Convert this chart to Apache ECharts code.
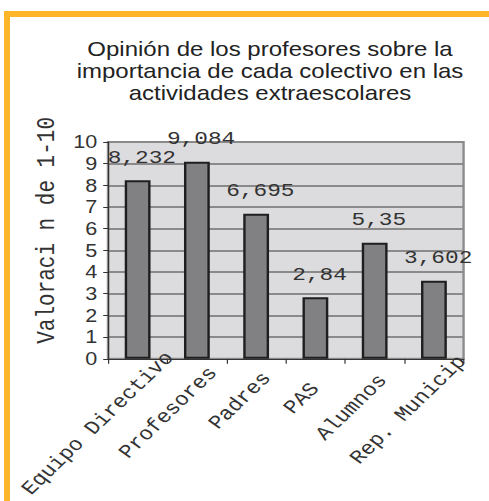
<!DOCTYPE html>
<html>
<head>
<meta charset="utf-8">
<script src="https://cdn.jsdelivr.net/npm/echarts@6/dist/echarts.min.js"></script>
<style>
  html, body { margin: 0; padding: 0; width: 489px; height: 501px; overflow: hidden; background: #ffffff; }
  #frame { position: absolute; left: 4px; top: 11px; width: 1000px; height: 1000px;
           border-top: 6px solid #FDB62A; border-left: 6px solid #FDB62A; }
  #chart { position: absolute; left: 0; top: 0; width: 407.5px; height: 501px;
           transform: scaleX(1.2); transform-origin: 0 0; }
</style>
</head>
<body>
<div id="frame"></div>
<div id="chart"></div>
<script>
const titleLines = ['Opinión de los profesores sobre la', 'importancia de cada colectivo en las', 'actividades extraescolares'];
const categories = ['Equipo Directivo', 'Profesores', 'Padres', 'PAS', 'Alumnos', 'Rep. Municip'];
const values = [8.232, 9.084, 6.695, 2.84, 5.35, 3.602];
const yAxisName = 'Valoraci n de 1-10';
const yMin = 0, yMax = 10, yStep = 1;
// per-label shift along the rotated text direction (px)
const labelShift = [41, 21, 14, 0, 11, 36];

const chart = echarts.init(document.getElementById('chart'), null, { renderer: 'svg' });
const mono = "'Liberation Mono', 'Courier New', monospace";
const sans = "'Liberation Sans', Arial, sans-serif";

chart.setOption({
  animation: false,
  backgroundColor: 'transparent',
  title: {
    text: titleLines.join('\n'),
    left: 225,
    top: 38,
    textAlign: 'center',
    padding: 0,
    textStyle: { fontFamily: sans, fontSize: 20, lineHeight: 22, fontWeight: 'normal', color: '#222' }
  },
  grid: {
    left: 90, right: 21.7, top: 142, bottom: 142,
    show: true, backgroundColor: '#dcdcde', borderColor: '#8c8c8c', borderWidth: 2,
    containLabel: false
  },
  xAxis: {
    type: 'category',
    data: categories.map((c, i) => ({ value: c, textStyle: { padding: [0, -labelShift[i], 0, 0] } })),
    axisLine: { show: true, lineStyle: { color: '#333', width: 1 } },
    axisTick: { show: true, length: 5, lineStyle: { color: '#333' } },
    axisLabel: { interval: 0, rotate: 49, margin: 27, fontFamily: mono, fontSize: 19, color: '#333', hideOverlap: false },
    splitLine: { show: false }
  },
  yAxis: {
    type: 'value',
    min: yMin, max: yMax, interval: yStep,
    name: yAxisName,
    nameLocation: 'middle',
    nameGap: 33,
    nameRotate: 90,
    nameTextStyle: { fontFamily: mono, fontSize: 21, color: '#333', padding: [0, 0, 0, 40] },
    axisLine: { show: true, lineStyle: { color: '#333', width: 1 } },
    axisTick: { show: true, length: 4, lineStyle: { color: '#333' } },
    axisLabel: { margin: 9, fontFamily: sans, fontSize: 18, color: '#333' },
    splitLine: { show: true, lineStyle: { color: '#8a8a8a', width: 2 } }
  },
  series: [{
    type: 'bar',
    data: values,
    barWidth: 21.5,
    itemStyle: { color: '#818184', borderColor: '#1e1e1e', borderWidth: 2 },
    label: {
      show: true, position: 'top', distance: 13, offset: [3.5, 0],
      fontFamily: mono, fontSize: 19, color: '#333',
      formatter: p => String(p.value).replace('.', ',')
    }
  }]
});
</script>
</body>
</html>
